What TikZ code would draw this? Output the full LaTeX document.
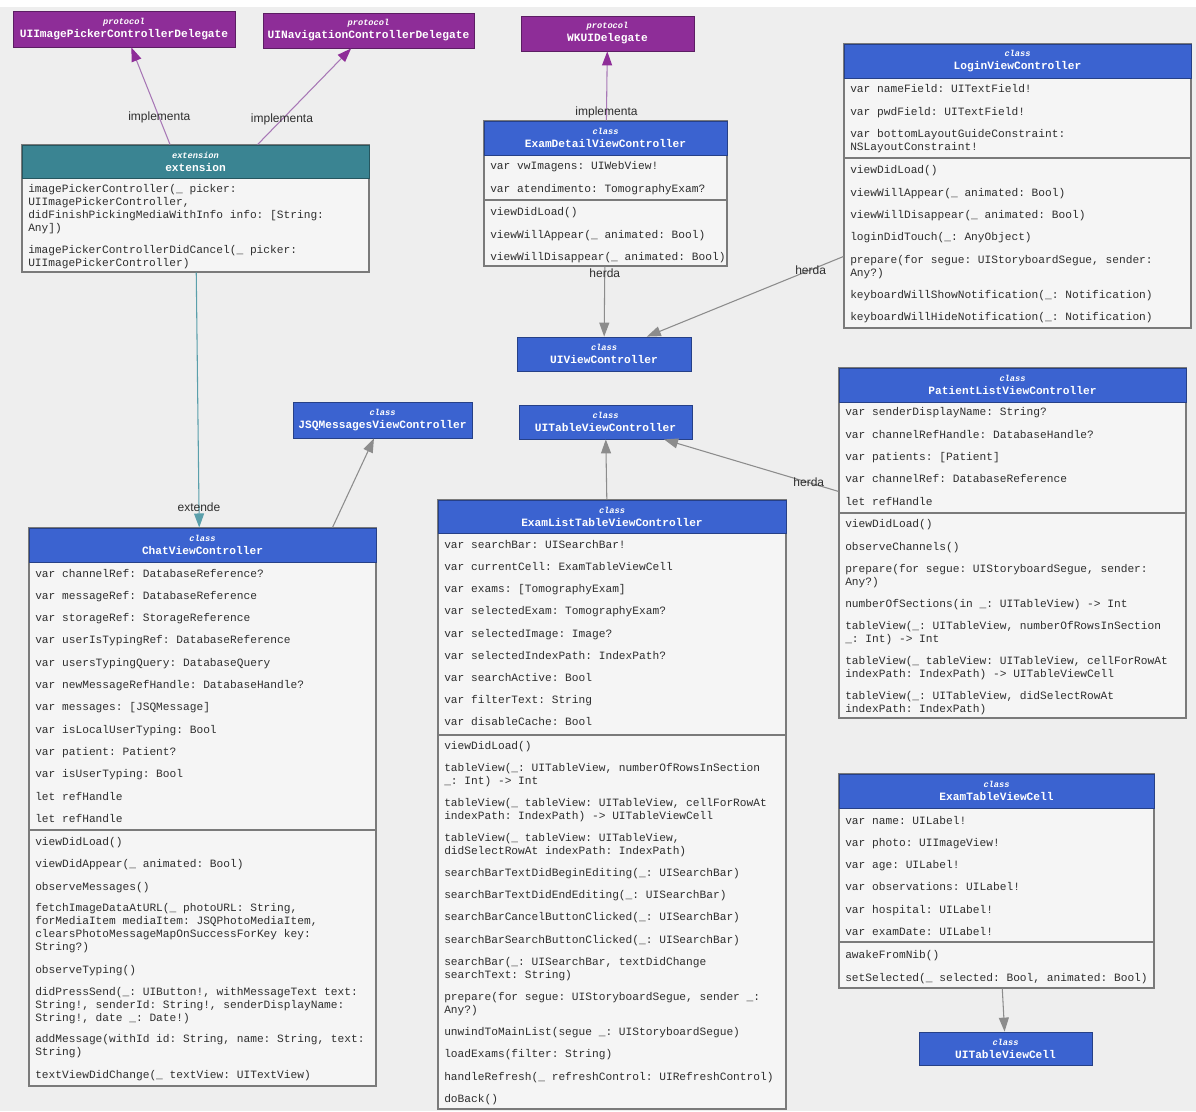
\documentclass[tikz,border=0pt]{standalone}
\usepackage{fontspec}
\setmainfont{Liberation Serif}
\setsansfont{Liberation Sans}
\setmonofont{Liberation Mono}
\usetikzlibrary{arrows.meta,fit,calc}
\definecolor{bg}{HTML}{EEEEEE}
\definecolor{hblue}{HTML}{3B63D0}
\definecolor{hpurple}{HTML}{8E2D98}
\definecolor{hteal}{HTML}{3A8492}
\definecolor{bodyfill}{HTML}{F5F5F5}
\definecolor{edgegray}{HTML}{7A7A7A}
\definecolor{arrgray}{HTML}{8C8C8C}
\definecolor{arrpurple}{HTML}{A878B6}
\definecolor{arrteal}{HTML}{5A9FAB}
\definecolor{txt}{HTML}{2E2E2E}
\newcommand\rowtop{\rule{0pt}{7pt}}
\newcommand\rowbot{\rule[-2.2pt]{0pt}{0pt}}
\tikzset{
  x=0.75pt, y=-0.75pt,
  classbody/.style={draw=edgegray, fill=bodyfill, line width=0.8pt, inner sep=0pt},
  hdr/.style={draw=#1!65!black, fill=#1, line width=0.6pt, inner sep=0pt},
  hdrtext/.style={text=white, align=center, inner sep=0pt,
    font=\fontsize{8.4}{9.75}\selectfont\ttfamily\bfseries},
  rowtxt/.style={anchor=west, align=left, inner sep=0pt, text=txt,
    font=\fontsize{8.4}{9.75}\selectfont\ttfamily},
  sepline/.style={draw=edgegray, line width=0.8pt},
  inharrow/.style={draw=arrgray, line width=0.8pt,
    -{Triangle[length=10.5pt,width=7.5pt,color=arrgray]}},
  implarrow/.style={draw=arrpurple, line width=0.8pt,
    -{Triangle[length=10.5pt,width=7.5pt,color=hpurple]}},
  extarrow/.style={draw=arrteal, line width=0.8pt,
    -{Triangle[length=10.5pt,width=7.5pt,color=arrteal]}},
  lbl/.style={font=\fontsize{9}{10}\selectfont\sffamily, text=txt, inner sep=1pt}
}
% #1 name, #2 x1, #3 y1, #4 x2, #5 header bottom, #6 y2, #7 colour, #8 stereotype, #9 title
\newcommand\umlclass[9]{%
  \node[classbody, fit={(#2,#3)(#4,#6)}] (#1) {};
  \node[hdr=#7, fit={(#2,#3)(#4,#5)}] (#1-h) {};
  \node[hdrtext] (#1-t) at (#1-h.center) {{\fontsize{6.5}{8}\selectfont\itshape #8}\\#9};
}
\newcommand\umlrows[3]{%
  \foreach \yy/\rt [count=\i] in {#3} {\node[rowtxt] (#1-r\i) at (#2,\yy) {\rowtop\rt\rowbot};}%
}
\newcommand\umlsep[2]{\draw[sepline] (#1.west |- 0,#2) -- (#1.east |- 0,#2);}
\begin{document}
\begin{tikzpicture}
\useasboundingbox (0,0) rectangle (1196,1111);
\fill[white] (0,0) rectangle (1196,1111);
\fill[bg] (0,7) rectangle (1196,1111);

% protocols
\node[hdr=hpurple, fit={(13,11)(235,47)}] (p1) {};
\node[hdrtext] (p1-t) at (p1.center) {{\fontsize{6.5}{8}\selectfont\itshape protocol}\\UIImagePickerControllerDelegate};
\node[hdr=hpurple, fit={(263,13)(474,48)}] (p2) {};
\node[hdrtext] (p2-t) at (p2.center) {{\fontsize{6.5}{8}\selectfont\itshape protocol}\\UINavigationControllerDelegate};
\node[hdr=hpurple, fit={(521,16)(694,51)}] (p3) {};
\node[hdrtext] (p3-t) at (p3.center) {{\fontsize{6.5}{8}\selectfont\itshape protocol}\\WKUIDelegate};

% extension
\umlclass{ext}{22}{145}{369}{178}{272}{hteal}{extension}{extension}
\umlrows{ext}{28}{208.5/{imagePickerController(\_ picker:\\UIImagePickerController,\\didFinishPickingMediaWithInfo info: [String:\\Any])},
 256.5/{imagePickerControllerDidCancel(\_ picker:\\UIImagePickerController)}}

% ExamDetailViewController
\umlclass{edvc}{484}{121}{727}{155}{266}{hblue}{class}{ExamDetailViewController}
\umlsep{edvc}{200}
\umlrows{edvc}{490}{166/{var vwImagens: UIWebView!},189/{var atendimento: TomographyExam?},
 212/{viewDidLoad()},235/{viewWillAppear(\_ animated: Bool)},257/{viewWillDisappear(\_ animated: Bool)}}

% LoginViewController
\umlclass{lvc}{844}{44}{1191}{78}{328}{hblue}{class}{LoginViewController}
\umlsep{lvc}{158}
\umlrows{lvc}{850}{89/{var nameField: UITextField!},112/{var pwdField: UITextField!},
 140.5/{var bottomLayoutGuideConstraint:\\NSLayoutConstraint!},
 170/{viewDidLoad()},193/{viewWillAppear(\_ animated: Bool)},215/{viewWillDisappear(\_ animated: Bool)},
 237/{loginDidTouch(\_: AnyObject)},266.5/{prepare(for segue: UIStoryboardSegue, sender:\\Any?)},
 295/{keyboardWillShowNotification(\_: Notification)},317/{keyboardWillHideNotification(\_: Notification)}}

% simple classes
\node[hdr=hblue, fit={(517,337)(691,371)}] (uivc) {};
\node[hdrtext] (uivc-t) at (uivc.center) {{\fontsize{6.5}{8}\selectfont\itshape class}\\UIViewController};
\node[hdr=hblue, fit={(293,402)(472,438)}] (jsq) {};
\node[hdrtext] (jsq-t) at (jsq.center) {{\fontsize{6.5}{8}\selectfont\itshape class}\\JSQMessagesViewController};
\node[hdr=hblue, fit={(519,405)(692,439)}] (uitvc) {};
\node[hdrtext] (uitvc-t) at (uitvc.center) {{\fontsize{6.5}{8}\selectfont\itshape class}\\UITableViewController};
\node[hdr=hblue, fit={(919,1032)(1092,1065)}] (uitvcell) {};
\node[hdrtext] (uitvcell-t) at (uitvcell.center) {{\fontsize{6.5}{8}\selectfont\itshape class}\\UITableViewCell};

% PatientListViewController
\umlclass{plvc}{839}{368}{1186}{402}{718}{hblue}{class}{PatientListViewController}
\umlsep{plvc}{513}
\umlrows{plvc}{845}{412/{var senderDisplayName: String?},435/{var channelRefHandle: DatabaseHandle?},
 457/{var patients: [Patient]},479/{var channelRef: DatabaseReference},502/{let refHandle},
 524/{viewDidLoad()},547/{observeChannels()},575.5/{prepare(for segue: UIStoryboardSegue, sender:\\Any?)},
 604/{numberOfSections(in \_: UITableView) -> Int},
 633/{tableView(\_: UITableView, numberOfRowsInSection\\\_: Int) -> Int},
 667.5/{tableView(\_ tableView: UITableView, cellForRowAt\\indexPath: IndexPath) -> UITableViewCell},
 702.5/{tableView(\_: UITableView, didSelectRowAt\\indexPath: IndexPath)}}

% ExamListTableViewController
\umlclass{eltvc}{438}{500}{786}{533}{1109}{hblue}{class}{ExamListTableViewController}
\umlsep{eltvc}{735}
\umlrows{eltvc}{444}{545/{var searchBar: UISearchBar!},567/{var currentCell: ExamTableViewCell},
 589/{var exams: [TomographyExam]},611/{var selectedExam: TomographyExam?},634/{var selectedImage: Image?},
 656/{var selectedIndexPath: IndexPath?},678/{var searchActive: Bool},700/{var filterText: String},
 722/{var disableCache: Bool},746/{viewDidLoad()},
 774.5/{tableView(\_: UITableView, numberOfRowsInSection\\\_: Int) -> Int},
 809.5/{tableView(\_ tableView: UITableView, cellForRowAt\\indexPath: IndexPath) -> UITableViewCell},
 844.5/{tableView(\_ tableView: UITableView,\\didSelectRowAt indexPath: IndexPath)},
 873/{searchBarTextDidBeginEditing(\_: UISearchBar)},895/{searchBarTextDidEndEditing(\_: UISearchBar)},
 917/{searchBarCancelButtonClicked(\_: UISearchBar)},940/{searchBarSearchButtonClicked(\_: UISearchBar)},
 968.5/{searchBar(\_: UISearchBar, textDidChange\\searchText: String)},
 1003.5/{prepare(for segue: UIStoryboardSegue, sender \_:\\Any?)},
 1032/{unwindToMainList(segue \_: UIStoryboardSegue)},1054/{loadExams(filter: String)},
 1077/{handleRefresh(\_ refreshControl: UIRefreshControl)},1099/{doBack()}}

% ChatViewController
\umlclass{chat}{29}{528}{376}{562}{1086}{hblue}{class}{ChatViewController}
\umlsep{chat}{830}
\umlrows{chat}{35}{574/{var channelRef: DatabaseReference?},596/{var messageRef: DatabaseReference},
 618/{var storageRef: StorageReference},640/{var userIsTypingRef: DatabaseReference},
 663/{var usersTypingQuery: DatabaseQuery},685/{var newMessageRefHandle: DatabaseHandle?},
 707/{var messages: [JSQMessage]},730/{var isLocalUserTyping: Bool},752/{var patient: Patient?},
 774/{var isUserTyping: Bool},797/{let refHandle},819/{let refHandle},
 842/{viewDidLoad()},864/{viewDidAppear(\_ animated: Bool)},887/{observeMessages()},
 928/{fetchImageDataAtURL(\_ photoURL: String,\\forMediaItem mediaItem: JSQPhotoMediaItem,\\clearsPhotoMessageMapOnSuccessForKey key:\\String?)},
 970/{observeTyping()},
 1005/{didPressSend(\_: UIButton!, withMessageText text:\\String!, senderId: String!, senderDisplayName:\\String!, date \_: Date!)},
 1046/{addMessage(withId id: String, name: String, text:\\String)},
 1075/{textViewDidChange(\_ textView: UITextView)}}

% ExamTableViewCell
\umlclass{etvc}{839}{774}{1154}{808}{988}{hblue}{class}{ExamTableViewCell}
\umlsep{etvc}{942}
\umlrows{etvc}{845}{821/{var name: UILabel!},843/{var photo: UIImageView!},865/{var age: UILabel!},
 887/{var observations: UILabel!},910/{var hospital: UILabel!},932/{var examDate: UILabel!},
 955/{awakeFromNib()},978/{setSelected(\_ selected: Bool, animated: Bool)}}

% connectors
\draw[implarrow] (ext) -- node[lbl, pos=0.276] (l1) {implementa} (p1);
\draw[implarrow] (ext) -- node[lbl, pos=0.26] (l2) {implementa} (p2);
\draw[implarrow] (edvc) -- node[lbl, pos=0.11] (l3) {implementa} (p3);
\draw[inharrow] (edvc) -- node[lbl, pos=0.1] (l4) {herda} (uivc);
\draw[inharrow] (lvc) -- node[lbl, pos=0.167] (l5) {herda} (uivc);
\draw[inharrow] (plvc) -- node[lbl, pos=0.17] (l6) {herda} (uitvc);
\draw[inharrow] (eltvc) -- (uitvc);
\draw[inharrow] (chat) -- (jsq);
\draw[inharrow] (etvc) -- (uitvcell);
\draw[extarrow] (ext) -- node[lbl, pos=0.92] (l7) {extende} (chat);
\end{tikzpicture}
\end{document}
